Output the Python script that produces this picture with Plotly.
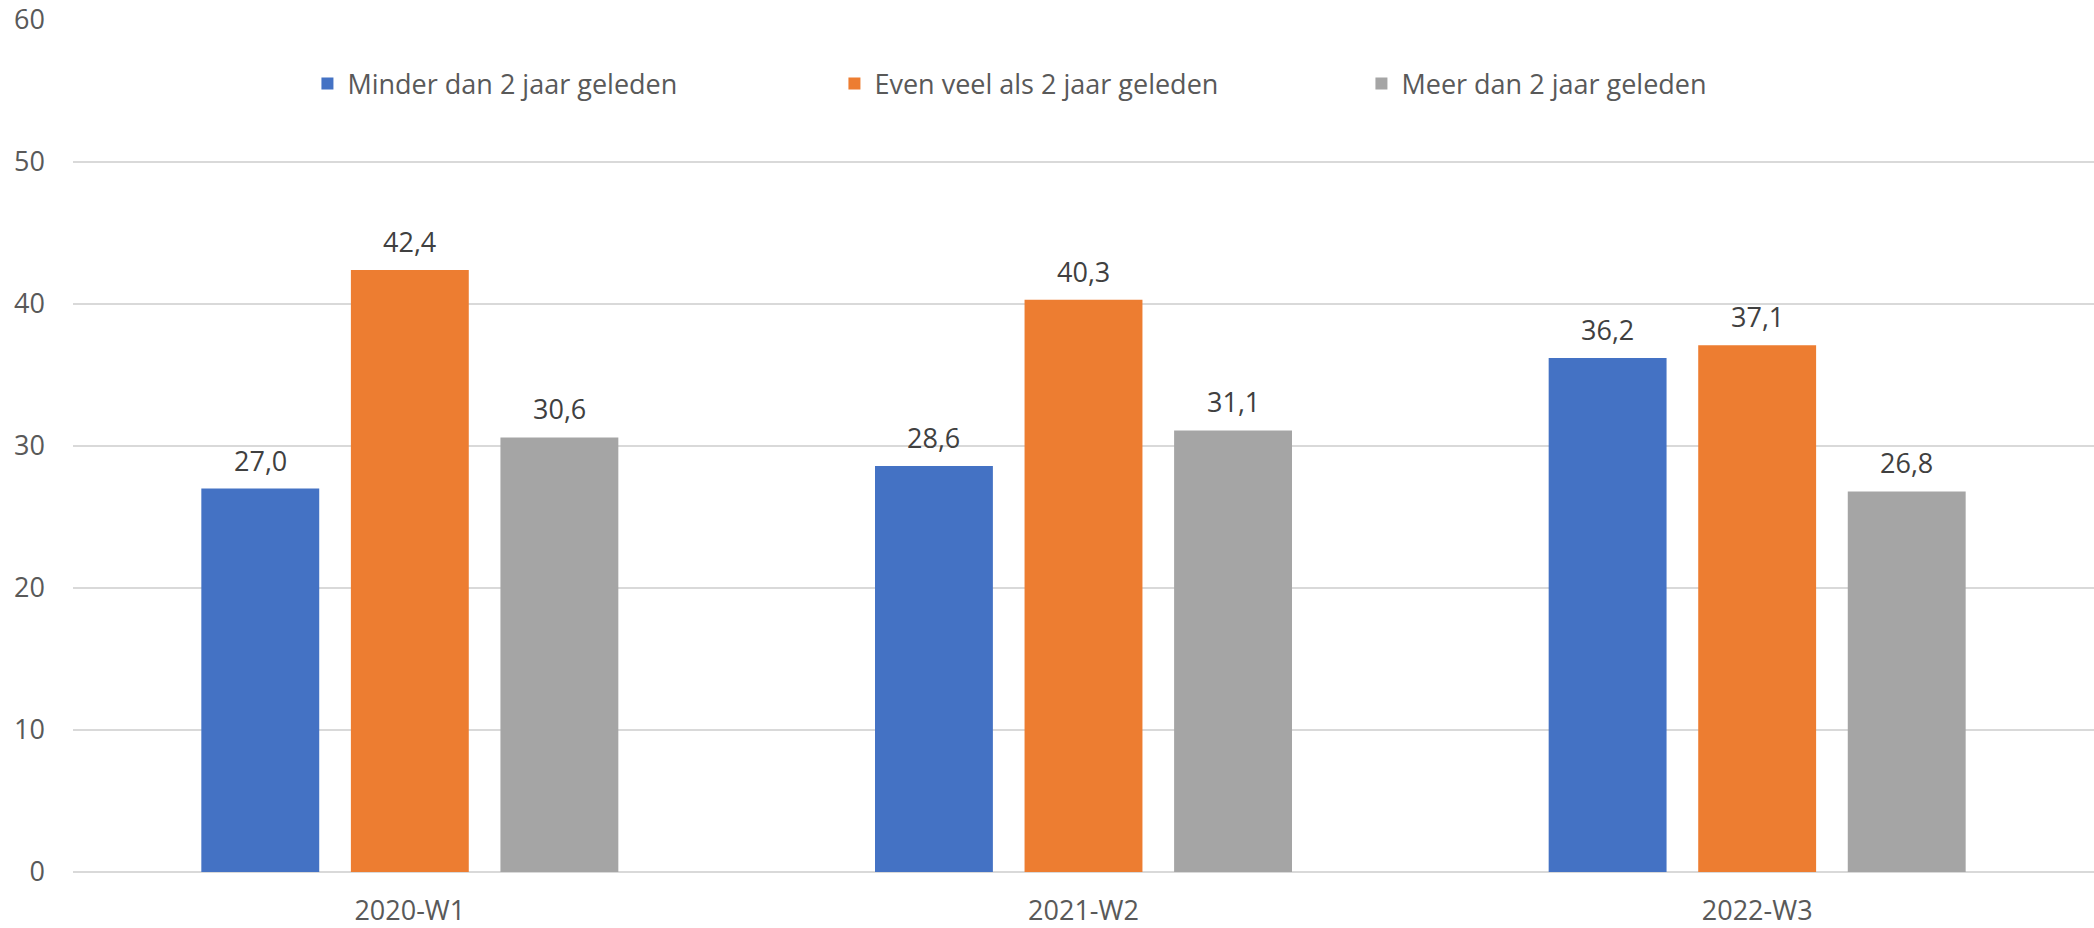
import plotly.graph_objects as go

# Survey waves and answer shares (%)
waves = ["2020-W1", "2021-W2", "2022-W3"]
series_names = [
    "Minder dan 2 jaar geleden",
    "Even veel als 2 jaar geleden",
    "Meer dan 2 jaar geleden",
]
minder = [27.0, 28.6, 36.2]
even_veel = [42.4, 40.3, 37.1]
meer = [30.6, 31.1, 26.8]
y_ticks = [0, 10, 20, 30, 40, 50, 60]

colors = ["#4472C4", "#ED7D31", "#A5A5A5"]
offsets = [-0.222, 0.0, 0.222]
bar_width = 0.175
font_family = "Open Sans, Segoe UI, sans-serif"
label_size = 27

fig = go.Figure()
x_pos = list(range(len(waves)))
annotations = []
for name, vals, col, off in zip(series_names, [minder, even_veel, meer], colors, offsets):
    fig.add_trace(go.Bar(
        x=x_pos,
        y=vals,
        name=name,
        marker=dict(color=col, line=dict(width=0)),
        width=bar_width,
        offset=off - bar_width / 2,
    ))
    for xi, v in zip(x_pos, vals):
        annotations.append(dict(
            x=xi + off, y=v, xref="x", yref="y",
            text=f"{v:.1f}".replace(".", ","),
            showarrow=False, yanchor="bottom", yshift=8,
            font=dict(family=font_family, size=label_size, color="#404040"),
        ))

fig.update_layout(
    width=2094, height=928,
    margin=dict(l=73, r=0, t=20, b=56),
    paper_bgcolor="white", plot_bgcolor="white",
    barmode="overlay",
    annotations=annotations,
    legend=dict(
        orientation="h",
        x=0.116, xanchor="left",
        y=0.925, yanchor="middle",
        font=dict(family=font_family, size=label_size, color="#595959"),
        entrywidth=482,
        itemwidth=30,
        traceorder="normal",
    ),
    xaxis=dict(
        range=[-0.5, 2.5],
        tickvals=x_pos, ticktext=waves,
        showgrid=False, zeroline=False,
        showline=False, ticks="",
        ticklabelstandoff=20,
        tickfont=dict(family=font_family, size=label_size, color="#595959"),
        fixedrange=True,
    ),
    yaxis=dict(
        range=[0, 60],
        tickvals=y_ticks,
        showgrid=True, gridcolor="#D9D9D9", gridwidth=2,
        zeroline=True, zerolinecolor="#D9D9D9", zerolinewidth=2,
        showline=False, ticks="",
        ticklabelstandoff=27,
        tickfont=dict(family=font_family, size=label_size, color="#595959"),
        fixedrange=True,
    ),
)

fig.write_html("out.html")
